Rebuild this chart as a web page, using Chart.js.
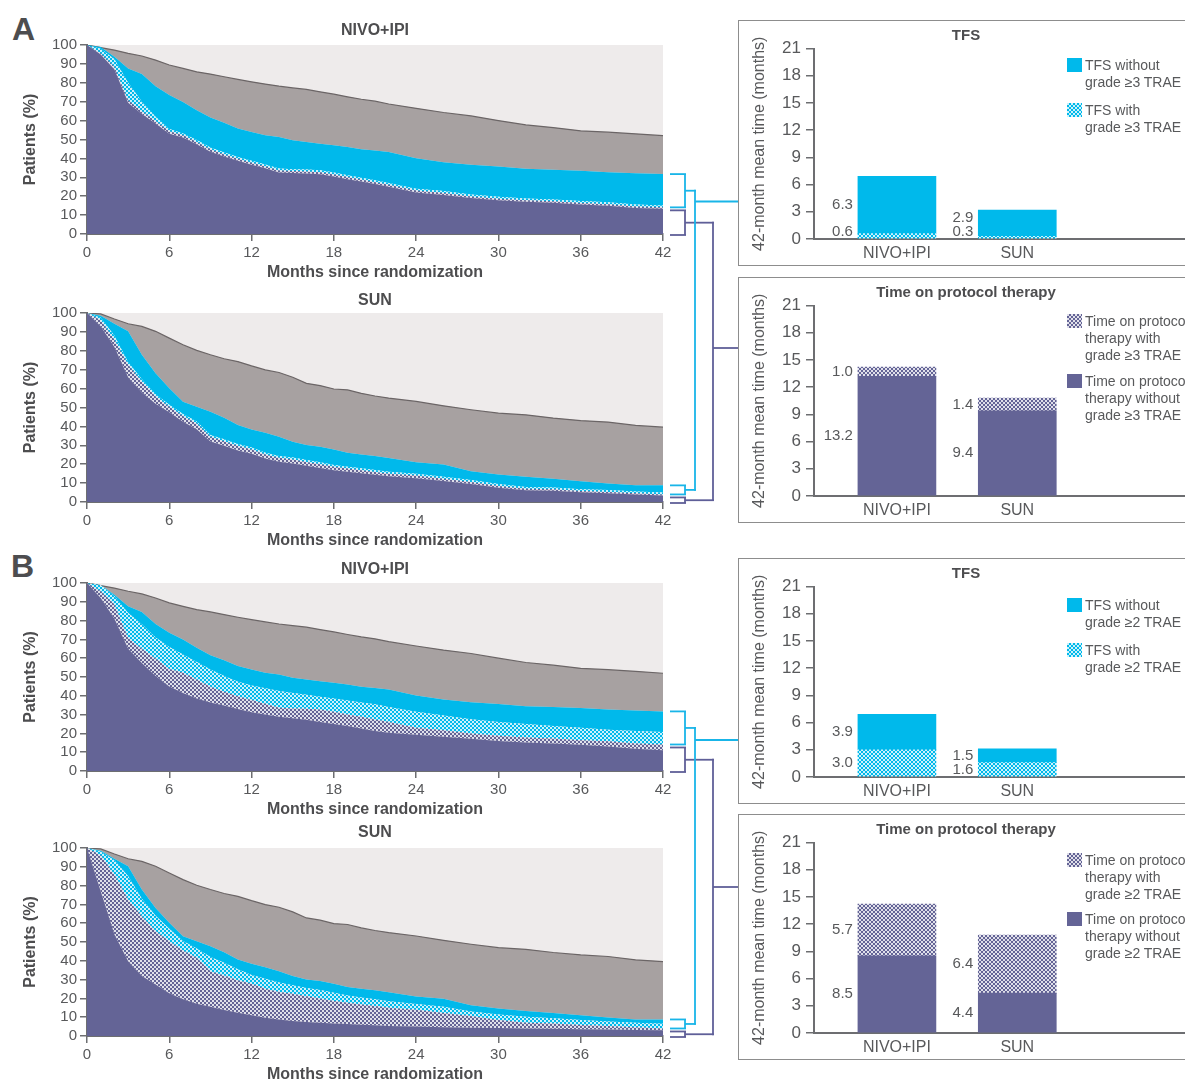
<!DOCTYPE html>
<html><head><meta charset="utf-8">
<script src="https://cdn.jsdelivr.net/npm/chart.js@4.4.1/dist/chart.umd.min.js"></script>
<style>
html,body{margin:0;padding:0;background:#fff;overflow:hidden;width:1185px;height:1083px;}
body{position:relative;font-family:"Liberation Sans",Arial,sans-serif;}
canvas{position:absolute;}
.box{position:absolute;border:1.5px solid #8d8d8d;box-sizing:border-box;width:560px;height:246px;left:738px;}
.panel{position:absolute;font:bold 32px "Liberation Sans",Arial,sans-serif;color:#4d4d4f;line-height:32px;}
.leg{position:absolute;font:14px "Liberation Sans",Arial,sans-serif;color:#58595b;line-height:17px;white-space:nowrap;left:1085px;}
.sw{position:absolute;width:15px;height:14px;left:1067px;}
svg{position:absolute;left:0;top:0;}
</style></head><body>
<div class="panel" style="left:12px;top:13px">A</div>
<div class="panel" style="left:11px;top:550px">B</div>

<canvas id="aNivo" style="left:0;top:18px" width="690" height="264"></canvas>
<canvas id="aSun" style="left:0;top:288px" width="690" height="262"></canvas>
<canvas id="bNivo" style="left:0;top:557px" width="690" height="262"></canvas>
<canvas id="bSun" style="left:0;top:820px" width="690" height="264"></canvas>

<div class="box" style="top:20px"></div>
<div class="box" style="top:277px"></div>
<div class="box" style="top:558px"></div>
<div class="box" style="top:814px"></div>
<canvas id="aTfs" style="left:739px;top:21px" width="454" height="244"></canvas>
<canvas id="aTot" style="left:739px;top:278px" width="454" height="244"></canvas>
<canvas id="bTfs" style="left:739px;top:559px" width="454" height="244"></canvas>
<canvas id="bTot" style="left:739px;top:815px" width="454" height="244"></canvas>

<div id="legends"></div>
<svg id="links" width="1185" height="1083"></svg>

<script>
// ---------------- DATA ----------------
const months = [0,1,2,3,4,5,6,7,8,9,10,11,12,13,14,15,16,17,18,19,20,21,22,24,26,28,30,32,34,36,38,40,42];
const xTicks = [0,6,12,18,24,30,36,42];

// NIVO+IPI curves (%)
const nivoOS  = [100,98.6,97.3,95.6,94.2,92,89.4,87.6,85.8,84.6,83.2,81.8,80.5,79.3,78.2,77.3,76.5,75.2,74,72.6,71.3,70.3,68.8,66.5,64.3,62.5,60,57.7,56.3,54.6,53.9,53,52];
const nivoTFS = [100,99,93.8,87.6,84.6,78.2,73.5,69.9,65.5,61.6,58.9,55.8,54,52.2,51.3,49.6,48.7,47.8,46.9,46,44.8,44.2,43.4,40.1,38,36.6,35.7,34.5,34,33.5,32.7,32.2,31.7];
const nivoTOT = [100,95.6,88.5,70.8,65,59.8,54.3,52.2,48.7,44.8,42.1,39.8,37.7,35.8,33.6,33.3,33.1,32.7,31.5,30.1,28.8,27.4,26,23,21.7,19.9,18.7,17.8,17.3,16.4,15.8,14.6,14.1];
// grade >=3 split (panel A)
const nivoTotNoTrae3 = [100,95,87,69.5,63.5,58.5,53,51,47.5,43.5,41,38.8,36.7,34.8,32.6,32.3,32,31.6,30.4,29,27.8,26.4,25,22,20.7,19,17.8,17,16.5,15.6,15,13.8,13.3];
const nivoTfsTrae3   = [100,98,92.5,80,70,62,55.5,53.2,49.7,45.8,43.1,40.8,38.7,36.8,34.6,34.3,34.1,33.7,32.5,31.1,29.8,28.4,27,24,22.7,20.9,19.7,18.8,18.3,17.4,16.8,15.6,15.1];
// grade >=2 split (panel B)
const nivoTotNoTrae2 = [100,92,81,65,57.5,50.5,45,41.5,38.5,36.5,34.8,33,31.3,30,28.8,28.1,27.2,26.1,25,24,22.6,21.3,20.3,19.3,18.2,17.2,16,15.1,14.6,14,13,11.9,11];
const nivoTfsTrae2   = [100,99,93,84,78,71,66,62,58,54,50.5,47.5,45.5,44,42.5,41.5,40.5,39.5,38.5,37.5,36.5,35.5,34,31.5,29.5,27.5,26,25,24,23,22,21.3,20.8];

// SUN curves (%)
const sunOS  = [100,99.5,96.8,94.3,92.9,90.3,86.7,83.2,80.2,77.9,75.8,74.3,72,69.9,68.5,66,62.8,61.6,59.8,59.3,57.5,56.1,55,53.2,50.9,48.8,47,46.1,44.4,43.1,42.3,40.5,39.6];
const sunTFS = [100,98.5,94.3,90.3,77.9,68.1,60.2,53.1,50.4,47.8,44.6,40.7,38.4,36.6,34.5,31.9,30.1,29.2,27.8,26,25.1,24.4,23.3,21,19.8,16.3,14.6,13.3,12.3,11,9.8,8.8,8.8];
const sunTOT = [100,96.1,85.8,72.6,63.7,55.8,50.4,45.5,41.6,34.5,32.2,29.7,27.8,25.1,23.4,22.5,21.2,20,18.6,17.7,16.8,15.9,15,14,12.3,10.6,8.5,7,6.7,5.8,5.3,4.6,4];
const sunTotNoTrae3 = [100,93,82,66,58,52,47.5,42.5,38.5,32,29.8,27.3,25.5,23,21.3,20.4,19.2,18,16.8,16,15.2,14.4,13.6,12.6,11.1,9.5,7.6,6.2,5.9,5.1,4.6,4,3.5];
const sunTfsTrae3   = [100,97.5,88,74,65,57,51.5,46.5,42.6,35.5,33.2,30.7,28.8,26.1,24.4,23.5,22.2,21,19.6,18.7,17.8,16.9,16,15,13.3,11.6,9.5,8,7.7,6.8,6.3,5.6,5];
const sunTotNoTrae2 = [100,77,54,39.8,31.9,27.4,22.7,19.5,17.2,15.6,13.8,12.4,11,9.7,8.8,8,7.4,7.1,6.7,6.4,6,5.7,5.3,5,4.7,4.4,4.2,4,3.8,3.6,3.4,3.2,3];
const sunTfsTrae2   = [100,98,93.5,85,73,64,57,50.5,46.5,42,39,35.5,32.5,30.5,28.5,27,25.5,24.5,23,21.5,20.5,19.5,18.5,17,15.5,13,11.5,10.3,9.5,8.5,7.7,7,6.5];

// Bar charts: 42-month mean time (months)
const barLabels = ['NIVO+IPI','SUN'];
const barPos = [0,1];
const tfsWithoutG3 = [6.3,2.9];
const tfsWithG3    = [0.6,0.3];
const totWithoutG3 = [13.2,9.4];
const totWithG3    = [1.0,1.4];
const tfsWithoutG2 = [3.9,1.5];
const tfsWithG2    = [3.0,1.6];
const totWithoutG2 = [8.5,4.4];
const totWithG2    = [5.7,6.4];

// ---------------- STYLE ----------------
const PURPLE='#646496', CYAN='#00b9eb', GRAY='#a7a1a1', LIGHT='#eeebeb';
const TICK='#58595b', TITLE='#4d4d4f', AXIS='#6d6e71';
const FONT='"Liberation Sans", Arial, sans-serif';
Chart.defaults.font.family = FONT;

function makeTile(color){
  const c=document.createElement('canvas'); c.width=4; c.height=4;
  const g=c.getContext('2d'); g.fillStyle=color; g.fillRect(0,0,4,4);
  g.fillStyle='rgba(255,255,255,0.8)'; g.fillRect(0,0,2,2); g.fillRect(2,2,2,2);
  return c;
}
const tileP=makeTile(PURPLE), tileC=makeTile(CYAN);
const ctxTmp=document.createElement('canvas').getContext('2d');
const purpleDots=ctxTmp.createPattern(tileP,'repeat');
const cyanDots=ctxTmp.createPattern(tileC,'repeat');

const plotBg={id:'plotBg',beforeDraw(chart){const a=chart.chartArea,c=chart.ctx;c.save();c.fillStyle=LIGHT;c.fillRect(a.left,a.top,a.right-a.left,a.bottom-a.top);c.restore();}};

function pts(arr){return months.map((m,i)=>({x:m,y:arr[i]}));}
function ds(arr,fill,color,extra){return Object.assign({data:pts(arr),fill:fill,backgroundColor:color,borderWidth:0,pointRadius:0,tension:0},extra||{});}

function areaChart(id,title,tpb,bottomPad,p1,tot,c1,tfs,os){
  return new Chart(document.getElementById(id),{
    type:'line',
    data:{datasets:[
      ds(p1,'origin',PURPLE),
      ds(tot,'-1',purpleDots),
      ds(c1,'-1',cyanDots),
      ds(tfs,'-1',CYAN),
      ds(os,'-1',GRAY,{borderWidth:1.2,borderColor:'#6b6566'})
    ]},
    options:{
      responsive:false,animation:false,events:[],
      layout:{padding:{left:21,right:27,top:0,bottom:bottomPad}},
      plugins:{legend:{display:false},tooltip:{enabled:false},
        title:{display:true,text:title,fullSize:false,color:TITLE,font:{size:16,weight:'bold'},padding:{top:3.4,bottom:tpb}}},
      scales:{
        x:{type:'linear',min:0,max:42,offset:false,
          afterBuildTicks(s){s.ticks=xTicks.map(v=>({value:v}));},
          ticks:{font:{size:15},color:TICK,padding:3,maxRotation:0,autoSkip:false},
          grid:{drawOnChartArea:false,tickLength:7,color:AXIS,lineWidth:1.5},
          border:{color:AXIS,width:2},
          title:{display:true,text:'Months since randomization',color:TITLE,font:{size:16,weight:'bold'},padding:0},
          afterFit(s){s.height=48;}},
        y:{min:0,max:100,
          ticks:{stepSize:10,font:{size:15},color:TICK,padding:3,autoSkip:false},
          grid:{drawOnChartArea:false,tickLength:7,color:AXIS,lineWidth:1.5},
          border:{color:AXIS,width:2},
          title:{display:true,text:'Patients (%)',color:TITLE,font:{size:16,weight:'bold'},padding:0},
          afterFit(s){s.width=66;}}
      }
    },
    plugins:[plotBg]
  });
}

const valueLabels={id:'valueLabels',afterDatasetsDraw(chart){
  const c=chart.ctx, yb=chart.scales.y.getPixelForValue(0);
  c.save(); c.font='15px '+FONT; c.fillStyle=TICK; c.textAlign='right'; c.textBaseline='middle';
  const n=chart.data.datasets[0].data.length;
  for(let j=0;j<n;j++){
    let prev=null;
    chart.data.datasets.forEach((d,i)=>{
      const el=chart.getDatasetMeta(i).data[j];
      let y=Math.min((el.y+el.base)/2,yb-7);
      if(prev!==null) y=Math.min(y,prev-14);
      prev=y;
      c.fillText(d.data[j].y.toFixed(1),el.x-el.width/2-5,y);
    });
  }
  c.restore();
}};

function bpts(arr){return barPos.map((p,i)=>({x:p,y:arr[i]}));}
function barChart(id,title,bottom,bottomColor,top,topColor){
  return new Chart(document.getElementById(id),{
    type:'bar',
    data:{datasets:[
      {data:bpts(bottom),backgroundColor:bottomColor,barThickness:78,borderWidth:0},
      {data:bpts(top),backgroundColor:topColor,barThickness:78,borderWidth:0}
    ]},
    options:{
      responsive:false,animation:false,events:[],
      layout:{padding:0},
      plugins:{legend:{display:false},tooltip:{enabled:false},
        title:{display:true,text:title,color:TITLE,font:{size:15,weight:'bold'},padding:{top:6,bottom:3.5}}},
      scales:{
        x:{type:'linear',stacked:true,min:-0.689,max:2.46,offset:false,bounds:'data',
          afterBuildTicks(s){s.ticks=barPos.map(v=>({value:v}));},
          ticks:{callback:(v)=>barLabels[barPos.indexOf(v)],font:{size:16},color:TICK,padding:5,maxRotation:0,autoSkip:false},
          grid:{display:false,drawTicks:false,offset:false},
          border:{display:true,color:AXIS,width:2},
          afterFit(s){s.height=26;}},
        y:{stacked:true,min:0,max:21,
          ticks:{stepSize:3,font:{size:17},color:TICK,padding:5,autoSkip:false},
          grid:{drawOnChartArea:false,tickLength:8,color:AXIS,lineWidth:1.5},
          border:{color:AXIS,width:2},
          title:{display:true,text:'42-month mean time (months)',color:TICK,font:{size:16},padding:{top:11,bottom:0}},
          afterFit(s){s.width=75;}}
      }
    },
    plugins:[valueLabels]
  });
}

const aNivo=areaChart('aNivo','NIVO+IPI',4.4,0,nivoTotNoTrae3,nivoTOT,nivoTfsTrae3,nivoTFS,nivoOS);
const aSun =areaChart('aSun','SUN',2.4,0,sunTotNoTrae3,sunTOT,sunTfsTrae3,sunTFS,sunOS);
const bNivo=areaChart('bNivo','NIVO+IPI',3.4,0,nivoTotNoTrae2,nivoTOT,nivoTfsTrae2,nivoTFS,nivoOS);
const bSun =areaChart('bSun','SUN',5.4,0,sunTotNoTrae2,sunTOT,sunTfsTrae2,sunTFS,sunOS);

barChart('aTfs','TFS',tfsWithG3,cyanDots,tfsWithoutG3,CYAN);
barChart('aTot','Time on protocol therapy',totWithoutG3,PURPLE,totWithG3,purpleDots);
barChart('bTfs','TFS',tfsWithG2,cyanDots,tfsWithoutG2,CYAN);
barChart('bTot','Time on protocol therapy',totWithoutG2,PURPLE,totWithG2,purpleDots);

// ---------------- LEGENDS ----------------
const legendItems=[
  {sw:58, tile:null,color:CYAN, lines:['TFS without','grade \u22653 TRAE']},
  {sw:103,tile:tileC,lines:['TFS with','grade \u22653 TRAE']},
  {sw:314,tile:tileP,lines:['Time on protocol','therapy with','grade \u22653 TRAE']},
  {sw:374,tile:null,color:PURPLE,lines:['Time on protocol','therapy without','grade \u22653 TRAE']},
  {sw:598,tile:null,color:CYAN, lines:['TFS without','grade \u22652 TRAE']},
  {sw:643,tile:tileC,lines:['TFS with','grade \u22652 TRAE']},
  {sw:853,tile:tileP,lines:['Time on protocol','therapy with','grade \u22652 TRAE']},
  {sw:912,tile:null,color:PURPLE,lines:['Time on protocol','therapy without','grade \u22652 TRAE']}
];
const legHost=document.getElementById('legends');
legendItems.forEach(it=>{
  const s=document.createElement('div'); s.className='sw'; s.style.top=it.sw+'px';
  if(it.tile){s.style.backgroundImage='url('+it.tile.toDataURL()+')';}else{s.style.background=it.color;}
  legHost.appendChild(s);
  const t=document.createElement('div'); t.className='leg'; t.style.top=(it.sw-1.5)+'px';
  t.innerHTML=it.lines.join('<br>'); legHost.appendChild(t);
});

// ---------------- CONNECTORS ----------------
const svg=document.getElementById('links');
function line(x1,y1,x2,y2,col){
  const l=document.createElementNS('http://www.w3.org/2000/svg','line');
  l.setAttribute('x1',x1);l.setAttribute('y1',y1);l.setAttribute('x2',x2);l.setAttribute('y2',y2);
  l.setAttribute('stroke',col);l.setAttribute('stroke-width','1.8');svg.appendChild(l);
}
function yPix(chart,v){return chart.canvas.offsetTop+chart.scales.y.getPixelForValue(v);}
const CYL='#19b5e8', PUL='#5f5f98';
const L=months.length-1;
function bracket(top,bot,xv,col){
  line(670,top,686,top,col); line(685,top,685,bot,col); line(670,bot,686,bot,col);
  const mid=(top+bot)/2; line(685,mid,xv+0.9,mid,col); return mid;
}
function panelLinks(nChart,sChart,tfsBoxY,totBoxY){
  const mids={c:[],p:[]};
  [[nChart,nivoTFS,nivoTOT],[sChart,sunTFS,sunTOT]].forEach(([ch,tfs,tot])=>{
    const cTop=yPix(ch,tfs[L]), cBot=yPix(ch,tot[L]);
    const pTop=cBot+3, pBot=yPix(ch,0)+1;
    mids.c.push(bracket(cTop,cBot,695,CYL));
    mids.p.push(bracket(pTop,pBot,713,PUL));
  });
  line(695,mids.c[0]-0.9,695,mids.c[1]+0.9,CYL);
  line(713,mids.p[0]-0.9,713,mids.p[1]+0.9,PUL);
  line(695,tfsBoxY,738,tfsBoxY,CYL);
  line(713,totBoxY,738,totBoxY,PUL);
}
panelLinks(aNivo,aSun,201.5,348);
panelLinks(bNivo,bSun,740,887);
</script>
</body></html>
